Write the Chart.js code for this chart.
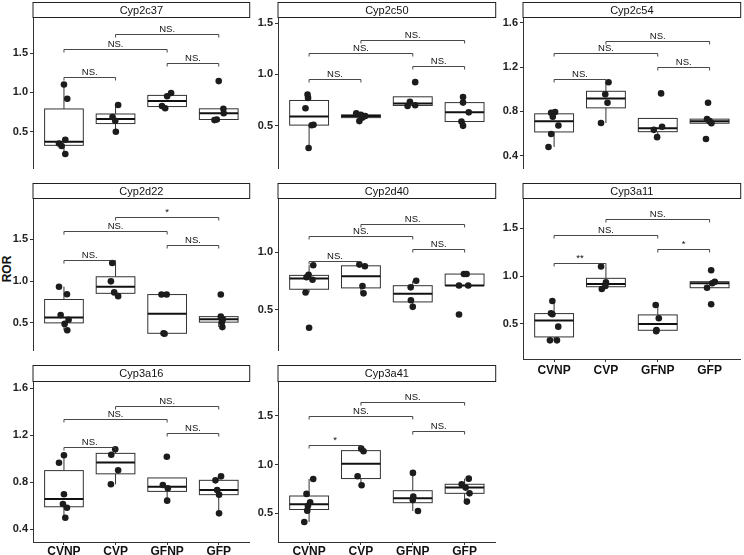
<!DOCTYPE html>
<html>
<head>
<meta charset="utf-8">
<script src="https://cdn.jsdelivr.net/npm/chart.js@4.4.0/dist/chart.umd.min.js"></script>
<style>
body{margin:0;background:#fff;}
#wrap{position:relative;width:744px;height:555px;overflow:hidden;}
#wrap canvas{position:absolute;}
#ror{position:absolute;left:-8px;top:262px;width:30px;text-align:center;transform:rotate(-90deg);
  font:bold 12px "Liberation Sans",Arial,sans-serif;color:#111;}
</style>
</head>
<body>
<div id="wrap"><div id="ror">ROR</div></div>
<script>
const groups = ['CVNP', 'CVP', 'GFNP', 'GFP'];
const genes = ['Cyp2c37', 'Cyp2c50', 'Cyp2c54', 'Cyp2d22', 'Cyp2d40', 'Cyp3a11', 'Cyp3a16', 'Cyp3a41'];

// values per group: CVNP, CVP, GFNP, GFP
const cyp2c37 = [[1.099,0.918,0.395,0.347,0.316,0.214],[0.837,0.685,0.636,0.497],[0.99,0.95,0.825,0.797],[1.142,0.789,0.733,0.653,0.645]];
const cyp2c50 = [[0.805,0.772,0.671,0.51,0.506,0.285],[0.622,0.607,0.595,0.58,0.546],[0.925,0.735,0.70,0.693],[0.781,0.726,0.631,0.542,0.5]];
const cyp2c54 = [[0.786,0.794,0.751,0.671,0.594,0.477],[1.063,0.954,0.877,0.694],[0.962,0.66,0.632,0.566],[0.877,0.729,0.711,0.692,0.549]];
const cyp2d22 = [[0.934,0.843,0.594,0.538,0.489,0.413],[1.217,0.998,0.866,0.821],[0.84,0.84,0.378,0.372],[0.84,0.576,0.545,0.51,0.451]];
const cyp2d40 = [[0.885,0.803,0.781,0.76,0.65,0.344],[0.891,0.877,0.705,0.642],[0.751,0.694,0.582,0.525],[0.809,0.809,0.71,0.71,0.459]];
const cyp3a11 = [[0.74,0.611,0.601,0.472,0.329,0.329],[1.1,0.936,0.897,0.866],[0.699,0.56,0.437,0.425],[1.061,0.942,0.925,0.879,0.706]];
const cyp3a16 = [[1.03,0.967,0.698,0.616,0.584,0.499],[1.081,1.035,0.902,0.783],[1.018,0.777,0.749,0.644],[0.851,0.817,0.735,0.695,0.536]];
const cyp3a41 = [[0.853,0.699,0.613,0.575,0.527,0.411],[1.164,1.137,0.88,0.788],[0.915,0.671,0.637,0.524],[0.856,0.798,0.764,0.705,0.62]];

// horizontal jitter of each point (in group units)
const jit2c37 = [[0,0.064,0.026,-0.096,-0.045,0.026],[0.05,-0.058,-0.006,0.006],[0.077,0,-0.1,-0.038],[0,0.09,0.096,-0.038,-0.083]];
const jit2c50 = [[-0.03,-0.02,-0.07,0.085,0.05,-0.01],[-0.09,0,0.083,0.03,-0.03],[0.047,-0.055,0.047,-0.1],[-0.03,-0.03,0.08,-0.06,-0.03]];
const jit2c54 = [[-0.057,0.019,-0.025,0.083,-0.057,-0.108],[0.05,-0.013,0.03,-0.095],[0.064,0.083,-0.076,-0.013],[-0.03,-0.05,0,0.035,-0.07]];
const jit2d22 = [[-0.096,0.058,-0.064,0.09,0.013,0.064],[-0.064,-0.09,-0.026,0.05],[-0.11,-0.01,-0.07,-0.05],[0.04,0.04,0.08,0.06,0.07]];
const jit2d40 = [[0.08,-0.01,-0.05,0.066,-0.068,0],[-0.03,0.076,0.03,0.05],[0.066,-0.04,-0.036,0],[-0.013,0.038,-0.108,0.07,-0.108]];
const jit3a11 = [[-0.034,-0.06,-0.034,0.08,-0.08,0.055],[-0.094,0,-0.01,-0.08],[-0.04,0.02,-0.025,-0.03],[0.03,0.1,0.05,-0.05,0.03]];
const jit3a16 = [[0,-0.096,0,-0.02,0.058,0.026],[-0.006,-0.083,0.05,-0.09],[-0.006,-0.083,0.013,0],[0.045,-0.064,-0.032,0.006,0.006]];
const jit3a41 = [[0.08,-0.05,0.02,-0.023,-0.036,-0.093],[0.006,0.05,-0.064,0.013],[0.003,0.01,0,0.1],[0.08,-0.057,0.02,0.095,0.045]];

// comparisons (same for every gene), bracket heights and labels
const comparisons = [[0,1],[0,2],[2,3],[1,3]];
const sigHeights = [[1.19,1.552,1.371,1.741],[0.959,1.209,1.081,1.338],[1.094,1.328,1.202,1.44],[1.255,1.602,1.432,1.772],
                    [0.923,1.137,1.022,1.246],[1.134,1.43,1.28,1.598],[1.104,1.336,1.22,1.45],[1.202,1.5,1.349,1.647]];
const sigLabels = [['NS.','NS.','NS.','NS.'],['NS.','NS.','NS.','NS.'],['NS.','NS.','NS.','NS.'],['NS.','NS.','NS.','*'],
                   ['NS.','NS.','NS.','NS.'],['**','NS.','*','NS.'],['NS.','NS.','NS.','NS.'],['*','NS.','NS.','NS.']];

const yLimits = [[0.03,1.946],[0.086,1.549],[0.283,1.645],[0.172,1.983],[0.148,1.459],[0.134,1.806],[0.292,1.654],[0.205,1.849]];
const yTicks = [[0.5,1.0,1.5],[0.5,1.0,1.5],[0.4,0.8,1.2,1.6],[0.5,1.0,1.5],[0.5,1.0],[0.5,1.0,1.5],[0.4,0.8,1.2,1.6],[0.5,1.0,1.5]];

const allValues = [cyp2c37, cyp2c50, cyp2c54, cyp2d22, cyp2d40, cyp3a11, cyp3a16, cyp3a41];
const allJitter = [jit2c37, jit2c50, jit2c54, jit2d22, jit2d40, jit3a11, jit3a16, jit3a41];

// layout
const cols = [[33, 252], [278, 498], [523, 743]];
const rows = [[2, 18, 177], [183, 199, 359], [365, 382, 542]];
const axisW = 30;
const font = '"Liberation Sans", Arial, sans-serif';
Chart.defaults.font.family = font;

function quantile(s, p) {
  const h = (s.length - 1) * p, lo = Math.floor(h);
  const hi = Math.min(lo + 1, s.length - 1);
  return s[lo] + (h - lo) * (s[hi] - s[lo]);
}
function boxStats(vals) {
  const s = vals.slice().sort((a, b) => a - b);
  const q1 = quantile(s, 0.25), med = quantile(s, 0.5), q3 = quantile(s, 0.75);
  const iqr = q3 - q1;
  const lo = Math.min(...s.filter(v => v >= q1 - 1.5 * iqr));
  const hi = Math.max(...s.filter(v => v <= q3 + 1.5 * iqr));
  return {q1, med, q3, lo, hi};
}

function panelPlugin(k) {
  return {
    id: 'panel' + k,
    beforeDatasetsDraw(chart) {
      const {ctx, scales: {x, y}} = chart;
      ctx.save();
      allValues[k].forEach((vals, i) => {
        const s = boxStats(vals);
        const xc = x.getPixelForValue(i + 1);
        const xl = x.getPixelForValue(i + 1 - 0.375), xr = x.getPixelForValue(i + 1 + 0.375);
        const yq1 = y.getPixelForValue(s.q1), yq3 = y.getPixelForValue(s.q3);
        ctx.strokeStyle = '#333';
        ctx.lineWidth = 1;
        ctx.beginPath();
        ctx.moveTo(xc, yq3); ctx.lineTo(xc, y.getPixelForValue(s.hi));
        ctx.moveTo(xc, yq1); ctx.lineTo(xc, y.getPixelForValue(s.lo));
        ctx.stroke();
        ctx.fillStyle = '#fff';
        ctx.fillRect(xl, yq3, xr - xl, yq1 - yq3);
        ctx.strokeRect(xl, yq3, xr - xl, yq1 - yq3);
        ctx.lineWidth = 2;
        ctx.strokeStyle = '#111';
        const ym = y.getPixelForValue(s.med);
        ctx.beginPath(); ctx.moveTo(xl, ym); ctx.lineTo(xr, ym); ctx.stroke();
      });
      ctx.restore();
    },
    afterDraw(chart) {
      const {ctx, chartArea: a, scales: {x, y}} = chart;
      ctx.save();
      // strip
      ctx.fillStyle = '#fff';
      ctx.strokeStyle = '#222';
      ctx.lineWidth = 1;
      const st = 0.5, sh = a.top - 0.5;
      ctx.fillRect(a.left, st, a.right - a.left, sh - st);
      ctx.strokeRect(a.left, st, a.right - a.left, sh - st);
      ctx.fillStyle = '#111';
      ctx.font = '11px ' + font;
      ctx.textAlign = 'center';
      ctx.textBaseline = 'middle';
      ctx.fillText(genes[k], (a.left + a.right) / 2, (st + sh) / 2 + 0.5);
      // significance brackets
      ctx.strokeStyle = '#333';
      ctx.lineWidth = 0.9;
      ctx.font = '9.5px ' + font;
      ctx.textBaseline = 'bottom';
      comparisons.forEach((c, j) => {
        const x1 = x.getPixelForValue(c[0] + 1), x2 = x.getPixelForValue(c[1] + 1);
        const yb = Math.round(y.getPixelForValue(sigHeights[k][j])) + 0.5;
        ctx.beginPath();
        ctx.moveTo(x1, yb + 3); ctx.lineTo(x1, yb); ctx.lineTo(x2, yb); ctx.lineTo(x2, yb + 3);
        ctx.stroke();
        ctx.fillText(sigLabels[k][j], (x1 + x2) / 2, yb - 0.5);
      });
      ctx.restore();
    }
  };
}

const wrap = document.getElementById('wrap');
genes.forEach((g, k) => {
  const r = Math.floor(k / 3), c = k % 3;
  const hasX = k >= 5;
  const xH = hasX ? 16 : 0;
  const [left, right] = cols[c];
  const [stripTop, top, bottom] = rows[r];
  const cv = document.createElement('canvas');
  const w = axisW + (right - left) + 1, h = (bottom - stripTop) + xH;
  cv.width = w; cv.height = h;
  cv.style.left = (left - axisW) + 'px';
  cv.style.top = stripTop + 'px';
  cv.style.width = w + 'px'; cv.style.height = h + 'px';
  wrap.appendChild(cv);

  const pts = [];
  allValues[k].forEach((vals, i) => vals.forEach((v, j) => pts.push({x: i + 1 + allJitter[k][i][j], y: v})));

  new Chart(cv, {
    type: 'scatter',
    data: {
      datasets: [{
        data: pts,
        pointRadius: 3.3,
        pointHoverRadius: 3.3,
        backgroundColor: '#1c1c1c',
        borderWidth: 0
      }]
    },
    options: {
      responsive: false,
      animation: false,
      layout: {padding: {top: top - stripTop, right: 1, left: 0, bottom: 0}},
      plugins: {legend: {display: false}, tooltip: {enabled: false}},
      scales: {
        x: {
          type: 'linear', min: 0.4, max: 4.6,
          display: hasX,
          afterFit: s => { s.height = xH; },
          afterBuildTicks: s => { s.ticks = [1, 2, 3, 4].map(v => ({value: v})); },
          grid: {drawOnChartArea: false, drawTicks: true, tickLength: 3, color: '#333'},
          border: {display: true, color: '#333', width: 1},
          ticks: {autoSkip: false, maxRotation: 0, padding: k === 5 ? 3 : 1, color: '#111',
                  font: {size: 12, weight: 'bold', lineHeight: 1}, callback: v => groups[v - 1]}
        },
        y: {
          min: yLimits[k][0], max: yLimits[k][1],
          afterFit: s => { s.width = axisW; },
          afterBuildTicks: s => { s.ticks = yTicks[k].map(v => ({value: v})); },
          grid: {drawOnChartArea: false, drawTicks: true, tickLength: 3, color: '#333'},
          border: {display: true, color: '#333', width: 1},
          ticks: {padding: 2, color: '#222', font: {size: 11, weight: 'bold'},
                  callback: v => v.toFixed(1)}
        }
      }
    },
    plugins: [panelPlugin(k)]
  });
});
</script>
</body>
</html>
